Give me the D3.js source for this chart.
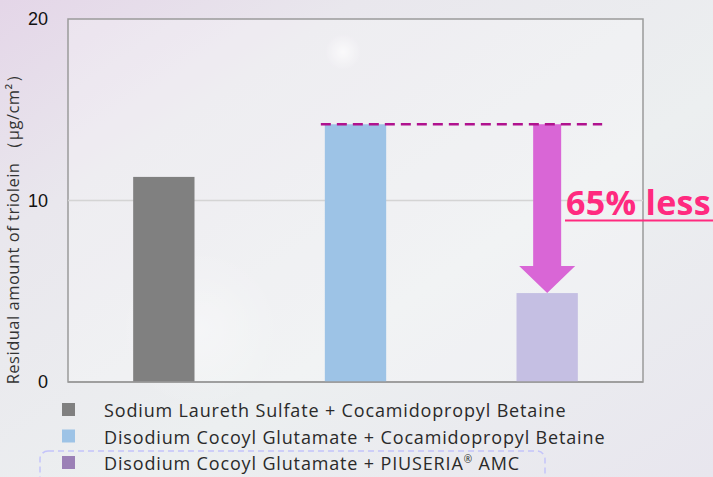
<!DOCTYPE html>
<html>
<head>
<meta charset="utf-8">
<script src="https://cdn.jsdelivr.net/npm/d3@7"></script>
<style>
  html, body { margin: 0; padding: 0; }
  body { width: 713px; height: 477px; overflow: hidden; }
</style>
</head>
<body>
<svg id="chart"></svg>
<script>
// data
const categories = ["SLES + CAPB", "DCG + CAPB", "DCG + PIUSERIA AMC"];
const values = [11.3, 14.2, 4.9];
const yTicks = [0, 10, 20];
const legendLabels = [
    "Sodium Laureth Sulfate + Cocamidopropyl Betaine",
    "Disodium Cocoyl Glutamate + Cocamidopropyl Betaine",
    "Disodium Cocoyl Glutamate + PIUSERIA"
];
const barColors = ["#808080", "#9dc3e6", "#c5bfe3"];
const legendColors = ["#808080", "#9dc3e6", "#9b80b6"];

const width = 713;
const height = 477;
const plot = { left: 68, right: 643, top: 19, bottom: 382 };

const svg = d3.select("#chart")
    .attr("width", width)
    .attr("height", height);

const defs = svg.append("defs");
const bg = defs.append("linearGradient")
    .attr("id", "bg")
    .attr("x1", 0).attr("y1", 0).attr("x2", 1).attr("y2", 1);
bg.append("stop").attr("offset", "0%").attr("stop-color", "#e4d6e8");
bg.append("stop").attr("offset", "25%").attr("stop-color", "#e9e7ed");
bg.append("stop").attr("offset", "60%").attr("stop-color", "#eceff0");
bg.append("stop").attr("offset", "100%").attr("stop-color", "#e8e6ee");

const glow = defs.append("radialGradient").attr("id", "glow");
glow.append("stop").attr("offset", "0%").attr("stop-color", "#ffffff").attr("stop-opacity", 0.7);
glow.append("stop").attr("offset", "100%").attr("stop-color", "#ffffff").attr("stop-opacity", 0);

svg.append("rect")
    .attr("width", width)
    .attr("height", height)
    .attr("fill", "url(#bg)");

svg.append("circle").attr("cx", 343).attr("cy", 52).attr("r", 18).attr("fill", "url(#glow)");
svg.append("circle").attr("cx", 200).attr("cy", 330).attr("r", 80).attr("fill", "url(#glow)").attr("opacity", 0.5);

const x = d3.scaleBand()
    .domain(categories)
    .range([plot.left, plot.right])
    .paddingInner(0.68)
    .paddingOuter(0.34);

const y = d3.scaleLinear()
    .domain([0, 20])
    .range([plot.bottom, plot.top]);

// plot area
svg.append("rect")
    .attr("x", plot.left)
    .attr("y", plot.top)
    .attr("width", plot.right - plot.left)
    .attr("height", plot.bottom - plot.top)
    .attr("fill", "#ffffff")
    .attr("fill-opacity", 0.25)
    .attr("stroke", "#9a9a9a")
    .attr("stroke-width", 1.5);

svg.selectAll(".grid")
    .data(yTicks.filter(d => d > 0 && d < 20))
    .enter()
    .append("line")
    .attr("class", "grid")
    .attr("x1", plot.left)
    .attr("x2", plot.right)
    .attr("y1", d => y(d))
    .attr("y2", d => y(d))
    .attr("stroke", "#d4d4d4")
    .attr("stroke-width", 1.5);

const yAxis = svg.append("g")
    .attr("transform", "translate(" + plot.left + ",0)")
    .call(d3.axisLeft(y).tickValues(yTicks).tickSize(0).tickPadding(20));
yAxis.select(".domain").remove();
yAxis.selectAll("text")
    .style("font-family", "Liberation Sans, Arial, sans-serif")
    .style("font-size", "18px")
    .attr("fill", "#111");

svg.append("text")
    .attr("transform", "translate(19,225) rotate(-90)")
    .attr("text-anchor", "middle")
    .style("font-family", "Open Sans, sans-serif")
    .style("font-size", "16.5px")
    .style("letter-spacing", "0.5px")
    .attr("fill", "#333")
    .text("Residual amount of triolein （μg/cm²）");

svg.selectAll(".bar")
    .data(values)
    .enter()
    .append("rect")
    .attr("class", "bar")
    .attr("x", (d, i) => x(categories[i]))
    .attr("y", d => y(d))
    .attr("width", x.bandwidth())
    .attr("height", d => y(0) - y(d))
    .attr("fill", (d, i) => barColors[i]);

svg.append("line")
    .attr("x1", plot.left)
    .attr("x2", plot.right)
    .attr("y1", plot.bottom)
    .attr("y2", plot.bottom)
    .attr("stroke", "#9a9a9a")
    .attr("stroke-width", 1.5);

// reference line + arrow
const refY = y(values[1]);
const c3 = x(categories[2]) + x.bandwidth() / 2;
const arrowColor = "#d966d6";
const headW = 28, shaftW = 14, headH = 27;
const tipY = y(values[2]);
svg.append("path")
    .attr("d", d3.line()([
        [c3 - shaftW, refY], [c3 + shaftW, refY], [c3 + shaftW, tipY - headH],
        [c3 + headW, tipY - headH], [c3, tipY], [c3 - headW, tipY - headH],
        [c3 - shaftW, tipY - headH]
    ]) + "Z")
    .attr("fill", arrowColor);

svg.append("line")
    .attr("x1", x(categories[1]) - 4)
    .attr("x2", c3 + 55)
    .attr("y1", refY)
    .attr("y2", refY)
    .attr("stroke", "#b0128e")
    .attr("stroke-width", 2.5)
    .attr("stroke-dasharray", "10,6");

const pct = Math.round((1 - values[2] / values[1]) * 100);
svg.append("text")
    .attr("x", 566)
    .attr("y", 215)
    .style("font-family", "Open Sans, sans-serif")
    .style("font-weight", "bold")
    .style("font-size", "34px")
    .style("letter-spacing", "0.3px")
    .attr("fill", "#ff2a7f")
    .text(pct + "% less");
svg.append("line")
    .attr("x1", 565).attr("x2", 713)
    .attr("y1", 220.5).attr("y2", 220.5)
    .attr("stroke", "#ff2a7f")
    .attr("stroke-width", 2);

// legend
const legendRow = 26.5;
const legend = svg.append("g").attr("transform", "translate(62,403)");
legend.selectAll("rect")
    .data(legendLabels)
    .enter()
    .append("rect")
    .attr("x", 0)
    .attr("y", (d, i) => i * legendRow)
    .attr("width", 13)
    .attr("height", 13)
    .attr("fill", (d, i) => legendColors[i]);

const labels = legend.selectAll("text")
    .data(legendLabels)
    .enter()
    .append("text")
    .attr("x", 42)
    .attr("y", (d, i) => i * legendRow + 14)
    .style("font-family", "Open Sans, sans-serif")
    .style("font-size", "18px")
    .style("letter-spacing", "0.85px")
    .attr("fill", "#2a2a2a")
    .text(d => d);

const last = labels.filter((d, i) => i === 2);
last.append("tspan").attr("dy", -7).style("font-size", "10px").text("®");
last.append("tspan").attr("dy", 7).text(" AMC");

svg.append("rect")
    .attr("x", 40)
    .attr("y", 451)
    .attr("width", 505)
    .attr("height", 40)
    .attr("rx", 8)
    .attr("fill", "none")
    .attr("stroke", "#c4c4fa")
    .attr("stroke-width", 1.5)
    .attr("stroke-dasharray", "6,4");
</script>
</body>
</html>
